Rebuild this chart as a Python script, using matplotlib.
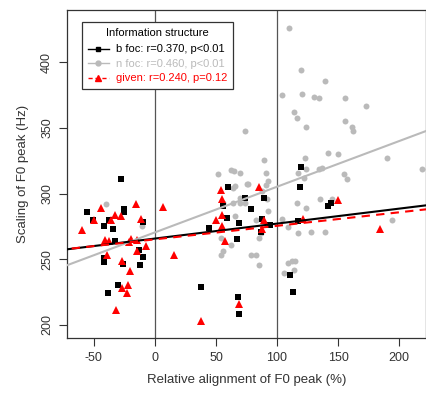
import numpy as np
import matplotlib.pyplot as plt
from matplotlib.lines import Line2D

plt.rcParams['font.family'] = ['Liberation Sans', 'DejaVu Sans']
plt.rcParams['axes.unicode_minus'] = False

# n foc (grey circles)
nfoc_x = [110, 120, 139, 104, 120.5, 130, 134, 156, 173, 114, 116, 156, 161, 162, 123.5,
          190, 219, 123, 142, 150, 134.7, 137, 124, 117.5, 154.7, 157.6, 122, 116, 124, 135,
          145, 104, 117.5, 128, 139, 194, 109, 112, 115, 106, 114, 109,
          74, 89, 51.6, 62, 65, 70, 91, 93, 91, 65.6, 75, 88, 70, 92, 64, 56, 70, 74, 93,
          65.6, 83, 54, 62, 85, 87, 56, 54, 79, 83, 85.5, 64, 76.5,
          -40, -10.7]
nfoc_y = [426, 394, 386, 375, 375.7, 374, 373, 373, 367, 362, 357.6, 355.6, 350.5, 347.7, 350.5,
          327, 318.7, 327, 331, 330, 319, 319.7, 318.5, 315.4, 315, 311, 311.6, 292.7, 289, 295.6,
          296, 281, 270, 271, 271, 280, 247, 249, 249, 239.5, 241.6, 274.4,
          347.5, 325.8, 315, 318, 317, 316, 315.6, 310, 306.7, 306, 307, 302, 297, 296, 293, 293, 293, 293, 287,
          283, 280, 266, 261, 266, 270, 256.6, 253, 253, 253, 246, 304.4, 307,
          292.5, 275.4]

# b foc (black squares)
bfoc_x = [-28, -56, -25, -25, -50.5, -38, -42, -34, -9.6, -33, -13, -41.5, -41.5, -9.6, -12.3, -26, -30, -38.5,
          60, 74, 89, 79, 44, 59, 69, 67.5, 87.5, 94, 37.5, 68, 69, 56, 87,
          120, 119, 142, 144, 117, 111, 113]
bfoc_y = [311, 286, 288.7, 286, 280, 280, 275, 273, 278.5, 264, 257.4, 251, 248, 251.8, 246, 246.7, 230.7, 224,
          305, 296.8, 297, 288.7, 274, 281.5, 277.5, 265.5, 281, 276, 228.6, 221, 208.5, 290.5, 271,
          320, 305, 290.5, 293, 279, 238.3, 225]

# given (red triangles)
given_x = [-15.6, -44, -50, -36, -32.5, -28, -11.5, -60, -41, -37.5, -19.7, -21, -15, 6.3, -7, -15,
           -39, -27, -20.5, -22, -27, -23, -32, 15.6,
           54, 85, 54.6, 54.6, 50, 54.6, 57, 89, 88, 69, 37.7,
           121.6, 150, 184]
given_y = [292, 289, 280, 280, 283.6, 282.8, 281, 272, 265, 263.7, 265.8, 263, 265, 289.7, 260.5, 256,
           253.6, 249, 240.8, 230.7, 228, 224, 211.6, 253.6,
           303, 305, 295.6, 284, 280, 275, 263.7, 280, 272.7, 216, 203,
           280.8, 295, 273]

# regression lines (intercept, slope)
bfoc_fit = (265.8, 0.114)
nfoc_fit = (270.5, 0.348)
given_fit = (265.2, 0.103)

labels = ['b foc: r=0.370, p<0.01', 'n foc: r=0.460, p<0.01', 'given: r=0.240, p=0.12']
grey = '#bababa'
ink = '#333333'

fig = plt.figure(figsize=(4.26, 3.94), dpi=100)
ax = fig.add_axes([67 / 426, 56 / 394, 359 / 426, 328 / 394])

ax.axvline(0, color='#555555', lw=0.9, zorder=1)
ax.axvline(100, color='#555555', lw=0.9, zorder=1)

ax.plot(nfoc_x, nfoc_y, 'o', color=grey, ms=4.3, mew=0, zorder=2)
ax.plot(bfoc_x, bfoc_y, 's', color='black', ms=3.8, mew=0, zorder=3)
ax.plot(given_x, given_y, '^', color='red', ms=5.5, mew=0, zorder=4)

xx = np.array([-80, 240])
ax.plot(xx, nfoc_fit[0] + nfoc_fit[1] * xx, color=grey, lw=1.5, zorder=5)
ax.plot(xx, bfoc_fit[0] + bfoc_fit[1] * xx, color='black', lw=1.5, zorder=5)
ax.plot(xx, given_fit[0] + given_fit[1] * xx, color='red', lw=1.5, ls=(0, (4, 3)), zorder=6)

ax.set_xlim(-72, 222)
ax.set_ylim(190, 440)
ax.set_xticks([-50, 0, 50, 100, 150, 200])
ax.set_yticks([200, 250, 300, 350, 400])
ax.tick_params(direction='out', length=6, width=0.8, labelsize=9, colors=ink, pad=4)
plt.setp(ax.get_yticklabels(), rotation=90, va='center')
for s in ax.spines.values():
    s.set_linewidth(0.9)
    s.set_color(ink)

ax.set_xlabel('Relative alignment of F0 peak (%)', fontsize=9.5, color=ink, labelpad=7)
ax.set_ylabel('Scaling of F0 peak (Hz)', fontsize=9.5, color=ink, labelpad=9)

handles = [Line2D([], [], color='black', marker='s', ms=3.5, lw=1),
           Line2D([], [], color=grey, marker='o', ms=3.5, lw=1),
           Line2D([], [], color='red', marker='^', ms=5, lw=1, ls=(0, (3, 2)))]
leg = ax.legend(handles, labels, title='Information structure', loc='upper left',
                bbox_to_anchor=(15 / 359, 1 - 12 / 328), fontsize=8, title_fontsize=8,
                fancybox=False, framealpha=1, edgecolor=ink, handlelength=1.9,
                borderpad=0.5, borderaxespad=0, labelspacing=0.4, handletextpad=0.7)
leg.get_frame().set_linewidth(0.9)
leg._legend_box.sep = 5
for t, c in zip(leg.get_texts(), ['black', grey, 'red']):
    t.set_color(c)

fig.savefig('out.png', dpi=100)
